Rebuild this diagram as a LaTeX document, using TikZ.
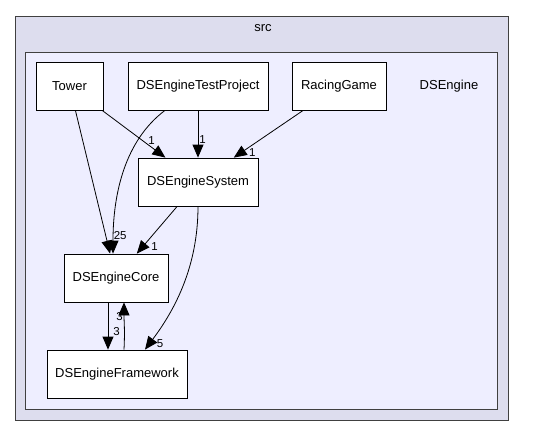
\documentclass[tikz,border=0pt]{standalone}
\usepackage{fontspec}
\setmainfont{Liberation Sans}
\usetikzlibrary{arrows.meta}
\usetikzlibrary{positioning}

\definecolor{srcfill}{HTML}{DDDDEE}
\definecolor{enginefill}{HTML}{EEEEFF}

\begin{document}
\begin{tikzpicture}[x=1pt, y=-1pt,
    dirbox/.style={draw=black, fill=white, line width=0.8pt, minimum height=48pt,
      inner sep=0pt, font=\fontsize{13}{15}\selectfont},
    dep/.style={line width=0.8pt, -{Triangle[length=13pt, width=11pt]}},
    deplabel/.style={font=\fontsize{11.5}{13}\selectfont, inner sep=1pt}]
    \useasboundingbox (0,0) rectangle (549,436);
    % Clusters
    \draw[fill=srcfill, draw=black!75, line width=0.8pt] (15,16) rectangle (508,420);
    \node[font=\fontsize{13}{15}\selectfont] (srclabel) at (263,28) {src};
    \draw[fill=enginefill, draw=black!75, line width=0.8pt] (25,52) rectangle (497,409);
    \node[font=\fontsize{13}{15}\selectfont] (enginelabel) at (449,86) {DSEngine};

    % Directories
    \node[dirbox, minimum width=67pt]  (tower)     at (69.5,86) {Tower};
    \node[dirbox, minimum width=140pt] (testproj)  at (198,86)  {DSEngineTestProject};
    \node[dirbox, minimum width=94pt]  (racing)    at (339,86)  {RacingGame};
    \node[dirbox, minimum width=120pt] (system)    at (198,182) {DSEngineSystem};
    \node[dirbox, minimum width=104pt] (core)      at (116,278) {DSEngineCore};
    \node[dirbox, minimum width=140pt] (framework) at (117,374) {DSEngineFramework};

    % Dependencies
    \draw[dep] (tower) -- (system) node[deplabel, pos=0.78, above=1pt] {1};
    \draw[dep] (tower) -- (core);
    \draw[dep] ([xshift=-33pt]testproj.south) .. controls +(-40,30) and +(0,-60) ..
      ([xshift=-3pt]core.north) node[deplabel, pos=0.9, right=-1pt] {25};
    \draw[dep] (testproj) -- (system) node[deplabel, pos=0.62, right] {1};
    \draw[dep] (racing) -- (system) node[deplabel, pos=0.9, right=7pt] {1};
    \draw[dep] (system) -- (core) node[deplabel, pos=0.85, right=7pt] {1};
    \draw[dep] (system.south) .. controls +(0,60) and +(30,-40) ..
      ([xshift=28pt]framework.north) node[deplabel, pos=0.95, right=6pt] {5};
    \draw[dep] ([xshift=-8pt]core.south) -- ([xshift=-9pt]framework.north)
      node[deplabel, pos=0.62, right=4pt] {3};
    \draw[dep] ([xshift=7pt]framework.north) .. controls +(1,-20) and +(0,20) ..
      ([xshift=8pt]core.south) node[deplabel, pos=0.72, left] {3};
\end{tikzpicture}
\end{document}
